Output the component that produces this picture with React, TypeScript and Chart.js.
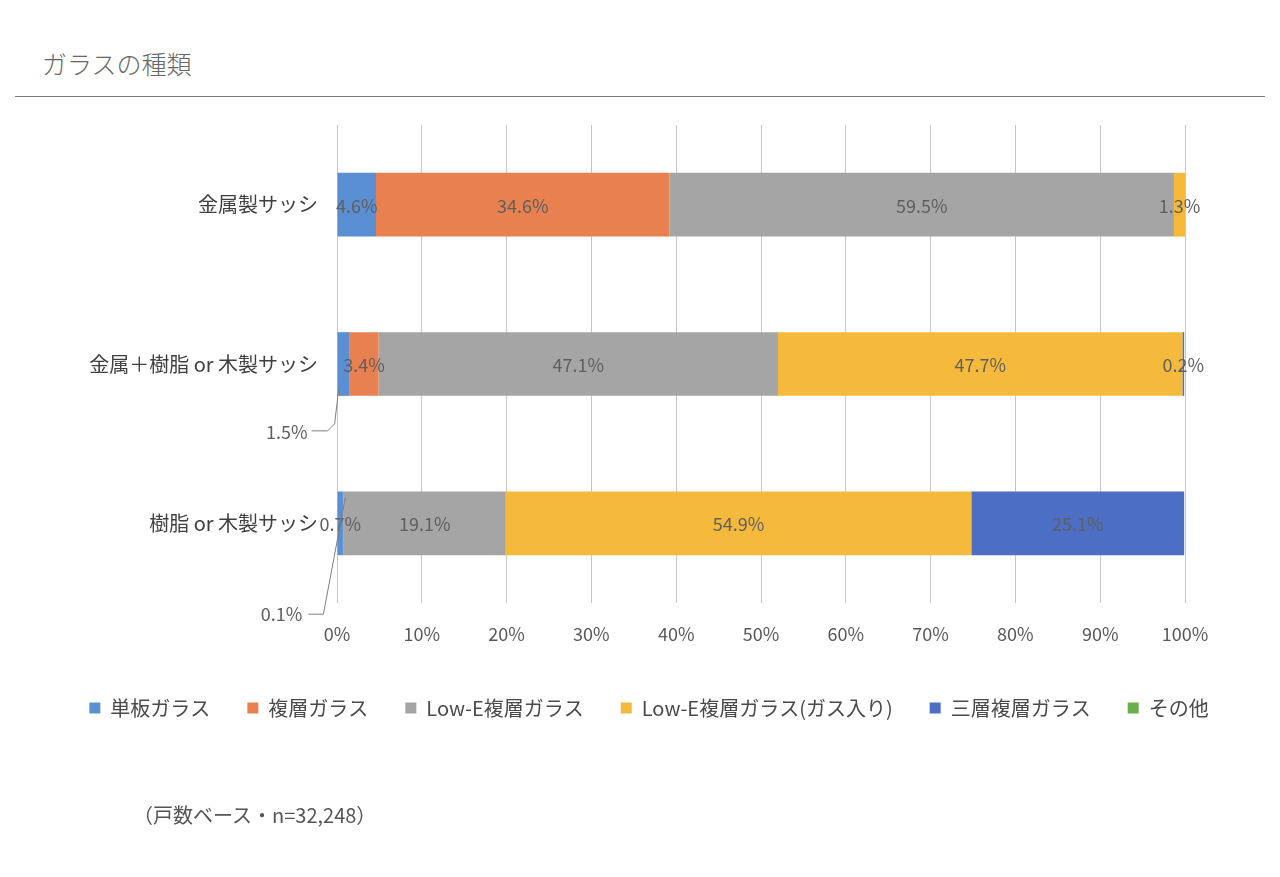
import React, { useEffect, useRef } from "react";
import { Chart, registerables } from "chart.js";

Chart.register(...registerables);

const categories = ["金属製サッシ", "金属＋樹脂 or 木製サッシ", "樹脂 or 木製サッシ"];
const seriesNames = [
  "単板ガラス",
  "複層ガラス",
  "Low-E複層ガラス",
  "Low-E複層ガラス(ガス入り)",
  "三層複層ガラス",
  "その他",
];
const singlePane = [4.6, 1.5, 0.7];
const doublePane = [34.6, 3.4, 0.1];
const lowE = [59.5, 47.1, 19.1];
const lowEGas = [1.3, 47.7, 54.9];
const triplePane = [0, 0.2, 25.1];
const other = [0, 0, 0];
const seriesValues = [singlePane, doublePane, lowE, lowEGas, triplePane, other];
const seriesColors = ["#5B8FD3", "#E98050", "#A5A5A5", "#F5B93C", "#4C6EC4", "#6AAE4E"];
const xTickMax = 100;
const xTickStep = 10;

const FONT = "'Noto Sans CJK JP', 'Noto Sans', sans-serif";

const labelPlugin = {
  id: "segmentLabels",
  afterDatasetsDraw(chart: any) {
    const ctx = chart.ctx;
    ctx.save();
    ctx.font = `18px ${FONT}`;
    ctx.fillStyle = "#5f5f5f";
    ctx.textBaseline = "middle";
    ctx.strokeStyle = "#7f7f7f";
    ctx.lineWidth = 1;
    chart.data.datasets.forEach((ds: any, di: number) => {
      const meta = chart.getDatasetMeta(di);
      ds.data.forEach((v: number, j: number) => {
        if (!v) return;
        const el = meta.data[j];
        const p = el.getProps(["x", "y", "base", "height"], true);
        const cx = (p.x + p.base) / 2;
        const top = p.y - p.height / 2;
        const bottom = p.y + p.height / 2;
        const text = v.toFixed(1) + "%";
        if (di === 0 && j === 1) {
          const sx = cx - 5;
          ctx.beginPath();
          ctx.moveTo(sx, bottom - 6);
          ctx.lineTo(sx - 4, bottom + 28);
          ctx.lineTo(sx - 11, bottom + 35);
          ctx.lineTo(sx - 27, bottom + 35);
          ctx.stroke();
          ctx.textAlign = "right";
          ctx.fillText(text, sx - 31, bottom + 36);
          return;
        }
        if (di === 1 && j === 2) {
          const sx = cx + 2;
          ctx.beginPath();
          ctx.moveTo(sx, top + 6);
          ctx.lineTo(sx - 22, bottom + 59);
          ctx.lineTo(sx - 37, bottom + 59);
          ctx.stroke();
          ctx.textAlign = "right";
          ctx.fillText(text, sx - 43, bottom + 59);
          return;
        }
        ctx.textAlign = "center";
        ctx.fillText(text, cx, p.y + 1);
      });
    });
    ctx.restore();
  },
};

export default function App() {
  const canvasRef = useRef<HTMLCanvasElement | null>(null);

  useEffect(() => {
    const canvas = canvasRef.current;
    if (!canvas) return;
    const chart = new Chart(canvas, {
      type: "bar",
      data: {
        labels: categories,
        datasets: seriesNames.map((name, i) => ({
          label: name,
          data: seriesValues[i],
          backgroundColor: seriesColors[i],
          borderWidth: 0,
          barPercentage: 0.4,
          categoryPercentage: 1,
        })),
      },
      options: {
        indexAxis: "y",
        animation: false,
        responsive: false,
        maintainAspectRatio: false,
        layout: { padding: { top: 125, left: 18, right: 0, bottom: 149 } },
        plugins: {
          tooltip: { enabled: false },
          legend: {
            position: "bottom",
            labels: {
              boxWidth: 11,
              boxHeight: 11,
              padding: 37,
              color: "#4a4a4a",
              font: { family: FONT, size: 20 },
            },
          },
        },
        scales: {
          x: {
            stacked: true,
            min: 0,
            max: xTickMax,
            ticks: {
              stepSize: xTickStep,
              padding: 20,
              color: "#595959",
              font: { family: FONT, size: 18 },
              callback: (v: any) => v + "%",
            },
            grid: { color: "#c6c6c6", drawTicks: false, lineWidth: 1 },
            border: { display: false },
            afterFit: (s: any) => {
              s.height = 58;
            },
          },
          y: {
            stacked: true,
            ticks: {
              padding: 19,
              color: "#404040",
              font: { family: FONT, size: 20 },
            },
            grid: { display: false, drawTicks: false },
            border: { display: false },
            afterFit: (s: any) => {
              s.width = 319;
            },
          },
          yRight: {
            type: "linear",
            position: "right",
            display: true,
            grid: { display: false, drawTicks: false },
            ticks: { display: false },
            border: { display: false },
            afterFit: (s: any) => {
              s.width = 95;
            },
          },
        },
      },
      plugins: [labelPlugin],
    });
    return () => chart.destroy();
  }, []);

  return (
    <div style={{ position: "absolute", left: 0, top: 0, width: 1280, height: 877, background: "#fff", overflow: "hidden" }}>
      <div
        style={{
          position: "absolute",
          left: 42,
          top: 46,
          fontFamily: FONT,
          fontSize: 25,
          fontWeight: 300,
          color: "#666",
          lineHeight: "34px",
          whiteSpace: "nowrap",
        }}
      >
        ガラスの種類
      </div>
      <div style={{ position: "absolute", left: 15, top: 96, width: 1250, height: 1, background: "#7a7a7a" }} />
      <canvas ref={canvasRef} width={1280} height={877} style={{ position: "absolute", left: 0, top: 0, width: 1280, height: 877 }} />
      <div
        style={{
          position: "absolute",
          left: 133,
          top: 801,
          fontFamily: FONT,
          fontSize: 20,
          color: "#555",
          lineHeight: "28px",
          whiteSpace: "nowrap",
        }}
      >
        （戸数ベース・n=32,248）
      </div>
    </div>
  );
}
